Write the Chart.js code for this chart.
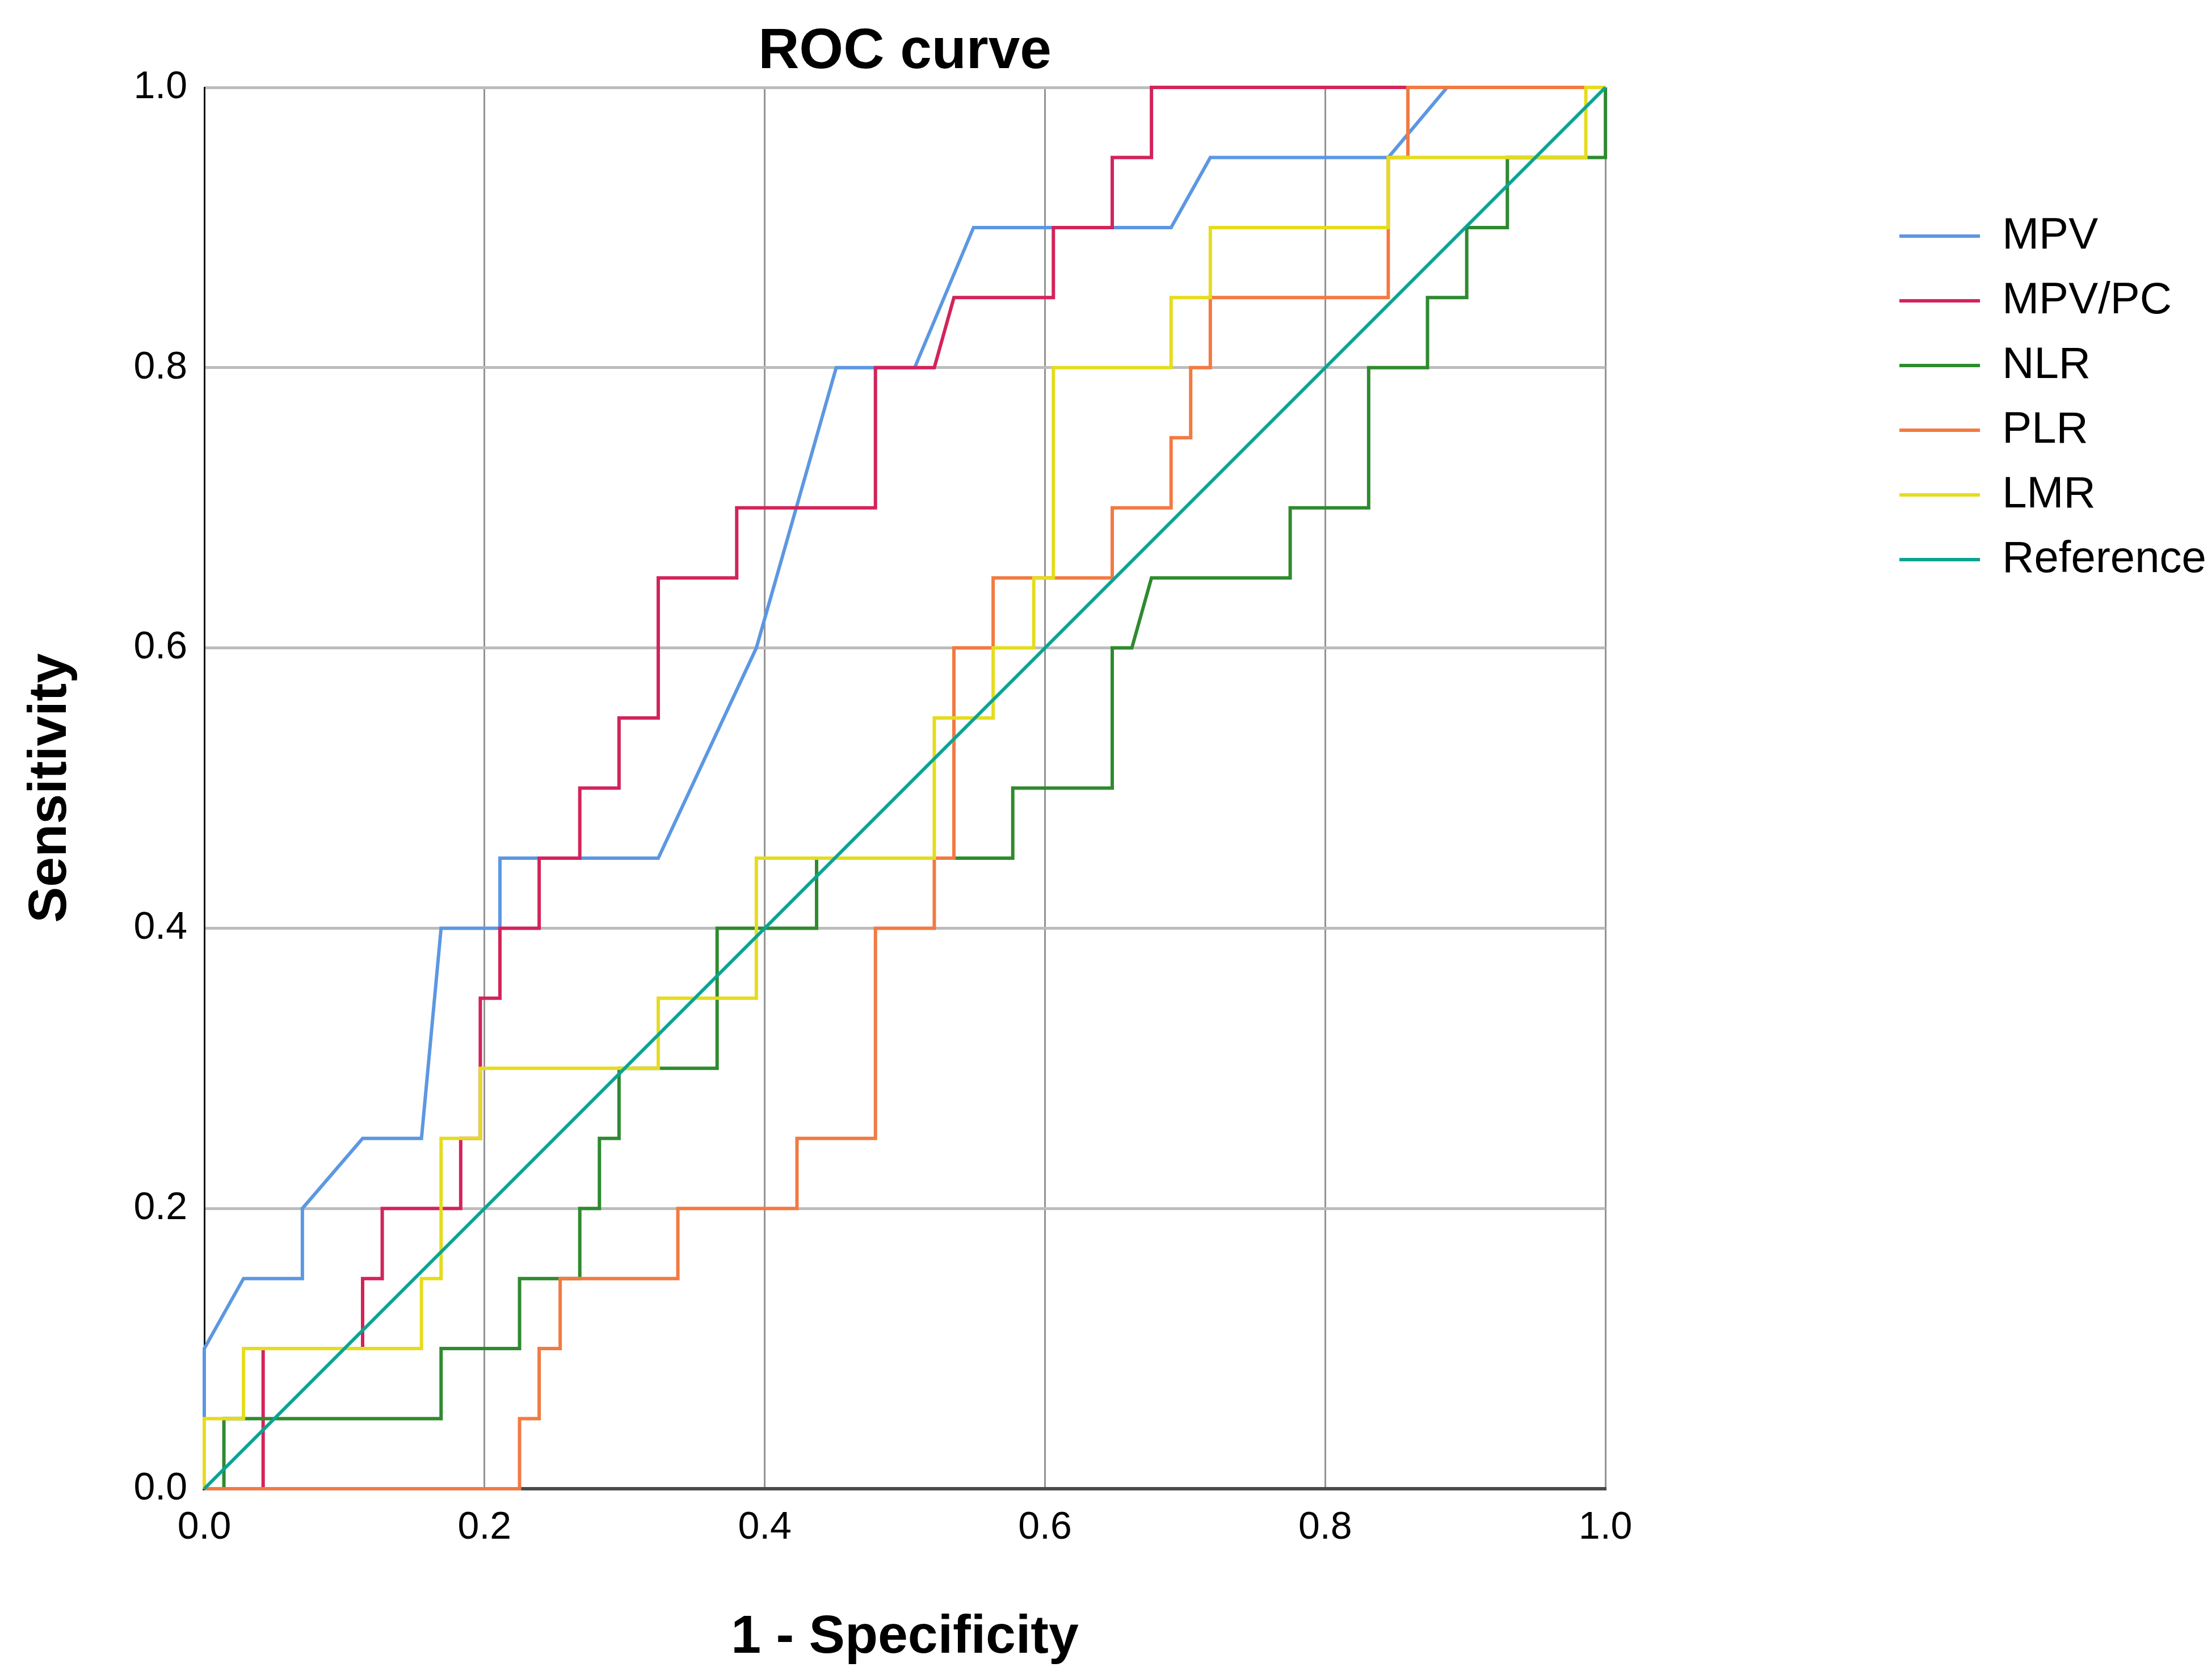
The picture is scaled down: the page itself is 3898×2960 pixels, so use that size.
<!DOCTYPE html>
<html>
<head>
<meta charset="utf-8">
<title>ROC curve</title>
<script src="https://cdn.jsdelivr.net/npm/chart.js@4.4.1/dist/chart.umd.min.js"></script>
<style>
  html, body { margin: 0; padding: 0; background: #ffffff; }
  #wrap { width: 3898px; height: 2960px; }
</style>
</head>
<body>
<div id="wrap"><canvas id="rocChart" width="3898" height="2960"></canvas></div>
<script>
// tick values on both axes
const axisTicks = [0.0, 0.2, 0.4, 0.6, 0.8, 1.0];

// 1 - specificity (x) and sensitivity (y) for each curve
const mpvFpr = [0, 0, 0.028, 0.070, 0.070, 0.113, 0.155, 0.169, 0.211, 0.211, 0.324, 0.394, 0.451, 0.507, 0.549, 0.690, 0.718, 0.845, 0.887, 1];
const mpvTpr = [0, 0.10, 0.15, 0.15, 0.20, 0.25, 0.25, 0.40, 0.40, 0.45, 0.45, 0.60, 0.80, 0.80, 0.90, 0.90, 0.95, 0.95, 1.00, 1];

const mpvPcFpr = [0, 0.042, 0.042, 0.113, 0.113, 0.127, 0.127, 0.183, 0.183, 0.197, 0.197, 0.211, 0.211, 0.239, 0.239, 0.268, 0.268,
                  0.296, 0.296, 0.324, 0.324, 0.380, 0.380, 0.479, 0.479, 0.521, 0.535, 0.606, 0.606, 0.648, 0.648, 0.676, 0.676, 1];
const mpvPcTpr = [0, 0, 0.10, 0.10, 0.15, 0.15, 0.20, 0.20, 0.25, 0.25, 0.35, 0.35, 0.40, 0.40, 0.45, 0.45, 0.50,
                  0.50, 0.55, 0.55, 0.65, 0.65, 0.70, 0.70, 0.80, 0.80, 0.85, 0.85, 0.90, 0.90, 0.95, 0.95, 1.00, 1];

const nlrFpr = [0, 0.014, 0.014, 0.169, 0.169, 0.225, 0.225, 0.268, 0.268, 0.282, 0.282, 0.296, 0.296, 0.366, 0.366, 0.437, 0.437, 0.577,
                0.577, 0.648, 0.648, 0.662, 0.676, 0.775, 0.775, 0.831, 0.831, 0.873, 0.873, 0.901, 0.901, 0.930, 0.930, 1, 1];
const nlrTpr = [0, 0, 0.05, 0.05, 0.10, 0.10, 0.15, 0.15, 0.20, 0.20, 0.25, 0.25, 0.30, 0.30, 0.40, 0.40, 0.45, 0.45,
                0.50, 0.50, 0.60, 0.60, 0.65, 0.65, 0.70, 0.70, 0.80, 0.80, 0.85, 0.85, 0.90, 0.90, 0.95, 0.95, 1];

const plrFpr = [0, 0.225, 0.225, 0.239, 0.239, 0.254, 0.254, 0.338, 0.338, 0.423, 0.423, 0.479, 0.479, 0.521, 0.521, 0.535,
                0.535, 0.563, 0.563, 0.648, 0.648, 0.690, 0.690, 0.704, 0.704, 0.718, 0.718, 0.845, 0.845, 0.859, 0.859, 1];
const plrTpr = [0, 0, 0.05, 0.05, 0.10, 0.10, 0.15, 0.15, 0.20, 0.20, 0.25, 0.25, 0.40, 0.40, 0.45, 0.45,
                0.60, 0.60, 0.65, 0.65, 0.70, 0.70, 0.75, 0.75, 0.80, 0.80, 0.85, 0.85, 0.95, 0.95, 1.00, 1];

const lmrFpr = [0, 0, 0.028, 0.028, 0.155, 0.155, 0.169, 0.169, 0.197, 0.197, 0.324, 0.324, 0.394, 0.394, 0.521, 0.521,
                0.563, 0.563, 0.592, 0.592, 0.606, 0.606, 0.690, 0.690, 0.718, 0.718, 0.845, 0.845, 0.986, 0.986, 1];
const lmrTpr = [0, 0.05, 0.05, 0.10, 0.10, 0.15, 0.15, 0.25, 0.25, 0.30, 0.30, 0.35, 0.35, 0.45, 0.45, 0.55,
                0.55, 0.60, 0.60, 0.65, 0.65, 0.80, 0.80, 0.85, 0.85, 0.90, 0.90, 0.95, 0.95, 1.00, 1];

const refFpr = [0, 1];
const refTpr = [0, 1];

const curveNames = ['MPV', 'MPV/PC', 'NLR', 'PLR', 'LMR', 'Reference'];
const curveColors = ['#5C97E2', '#D2245A', '#2F8A2F', '#F27A42', '#E5DC1E', '#0BA393'];

function toPoints(xs, ys) {
     return xs.map((x, i) => ({ x: x, y: ys[i] }));
}

const curves = [
     toPoints(mpvFpr, mpvTpr),
     toPoints(mpvPcFpr, mpvPcTpr),
     toPoints(nlrFpr, nlrTpr),
     toPoints(plrFpr, plrTpr),
     toPoints(lmrFpr, lmrTpr),
     toPoints(refFpr, refTpr)
];

const fontFamily = 'Arial, "Liberation Sans", sans-serif';
Chart.defaults.font.family = fontFamily;
Chart.defaults.color = '#000';

const datasets = curves.map((pts, i) => ({
     label: curveNames[i],
     data: pts,
     showLine: true,
     borderColor: curveColors[i],
     backgroundColor: curveColors[i],
     borderWidth: 6,
     pointRadius: 0,
     pointHoverRadius: 0,
     pointBorderWidth: 6,
     pointBorderColor: curveColors[i],
     tension: 0,
     fill: false,
     clip: false,
     order: curves.length - i // reference line ends up on top
}));

const ctx = document.getElementById('rocChart').getContext('2d');

const rocChart = new Chart(ctx, {
     type: 'scatter',
     data: { datasets: datasets },
     options: {
          responsive: false,
          animation: false,
          devicePixelRatio: 1,
          layout: {
               padding: { top: 22, left: 0, right: 0, bottom: 0 }
          },
          plugins: {
               title: {
                    display: true,
                    text: 'ROC curve',
                    fullSize: false,
                    font: { size: 100, weight: 'bold' },
                    color: '#000',
                    padding: { top: 10, bottom: 2 }
               },
               legend: {
                    display: true,
                    position: 'right',
                    align: 'start',
                    fullSize: false,
                    // empty title only pushes the items down
                    title: { display: true, text: '', font: { size: 10 }, padding: { top: 175, bottom: 0 } },
                    labels: {
                         usePointStyle: true,
                         pointStyle: 'line',
                         pointStyleWidth: 142,
                         padding: 36,
                         color: '#000',
                         font: { size: 78 },
                         sort: (a, b) => a.datasetIndex - b.datasetIndex
                    }
               },
               tooltip: { enabled: false }
          },
          scales: {
               x: {
                    type: 'linear',
                    min: 0,
                    max: 1,
                    afterBuildTicks: s => { s.ticks = axisTicks.map(v => ({ value: v })); },
                    afterFit: s => { s.height = 337; },
                    ticks: {
                         padding: 28,
                         font: { size: 68 },
                         color: '#000',
                         callback: v => v.toFixed(1)
                    },
                    grid: { color: '#939393', lineWidth: 3, drawTicks: false },
                    border: { display: true, color: '#4a4a4a', width: 6 },
                    title: {
                         display: true,
                         text: '1 - Specificity',
                         font: { size: 95, weight: 'bold' },
                         color: '#000',
                         padding: { top: 0, bottom: 17 }
                    }
               },
               y: {
                    type: 'linear',
                    min: 0,
                    max: 1,
                    afterBuildTicks: s => { s.ticks = axisTicks.map(v => ({ value: v })); },
                    afterFit: s => { s.width = 360; },
                    ticks: {
                         padding: 30,
                         font: { size: 68 },
                         color: '#000',
                         callback: v => v.toFixed(1)
                    },
                    grid: { color: '#bcbcbc', lineWidth: 5, drawTicks: false },
                    border: { display: true, color: '#111', width: 3 },
                    title: {
                         display: true,
                         text: 'Sensitivity',
                         font: { size: 95, weight: 'bold' },
                         color: '#000',
                         padding: { top: 33, bottom: 0 }
                    }
               },
               // empty axis, keeps the gap between plot and legend
               gap: {
                    type: 'linear',
                    position: 'right',
                    display: true,
                    afterFit: s => { s.width = 482; },
                    ticks: { display: false },
                    grid: { display: false, drawTicks: false },
                    border: { display: false }
               }
          }
     }
});
</script>
</body>
</html>
